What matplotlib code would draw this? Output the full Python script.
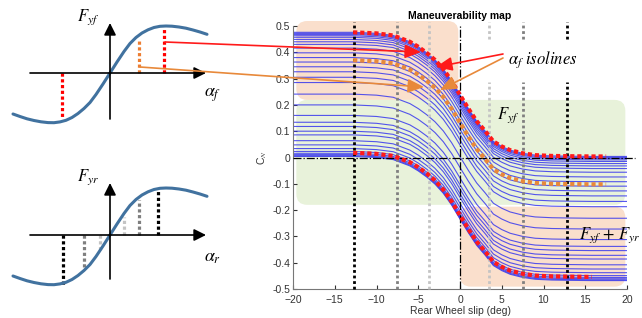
import numpy as np
import matplotlib
matplotlib.use('Agg')
from matplotlib import pyplot as plt
from matplotlib.patches import FancyBboxPatch

plt.rcParams['font.family'] = ['Liberation Sans', 'DejaVu Sans']
plt.rcParams['mathtext.fontset'] = 'stix'

# rear wheel slip (deg) and the drop of C_N along one alpha_f isoline
slip = [-20, -16, -12.8, -10, -8, -7, -6, -5, -4, -3, -2, -1, 0, 1, 2, 3, 4, 5, 6, 7.5, 9, 11, 13, 15.8, 17.5, 20]
drop = [0, 0, 0, -0.004, -0.012, -0.024, -0.036, -0.055, -0.078, -0.105, -0.14, -0.185, -0.238,
        -0.29, -0.338, -0.375, -0.415, -0.434, -0.448, -0.46, -0.467, -0.47, -0.471, -0.472, -0.472, -0.472]

# C_N of each isoline at -20 deg rear slip
levels = [0.476, 0.472, 0.468, 0.463, 0.457, 0.449, 0.44, 0.43, 0.416, 0.398, 0.38, 0.363, 0.345,
          0.326, 0.305, 0.285, 0.241, 0.2, 0.16, 0.134, 0.118, 0.1, 0.086, 0.064, 0.048, 0.034,
          0.023, 0.016, 0.011, 0.007, 0.004]

# highlighted isolines: level, start, end
red_levels = [0.476, 0.018]
red_start = [-12.8, -12.8]
red_end = [17.5, 15.8]
orange_level = 0.37
orange_start = -12.8
orange_end = 17.5

# dotted rear slip marks
slip_marks = [-12.7, -7.6, -3.7, 3.5, 7.5, 12.8]
mark_colors = ['black', '#7f7f7f', '#c4c4c4', '#c4c4c4', '#7f7f7f', 'black']

xticks = [-20, -15, -10, -5, 0, 5, 10, 15, 20]
yticks = [0.5, 0.4, 0.3, 0.2, 0.1, 0, -0.1, -0.2, -0.3, -0.4, -0.5]
ytick_labels = ['0.5', '0.4', '0.3', '0.2', '0.1', '0', '-0.1', '-0.2', '-0.3', '-0.4', '-0.5']

# tyre curve sketches (pixels from the origin)
sk_alpha = [-97, -90, -83, -76, -69, -62, -56, -50, -44, -38, -32, -26, -20, -14, -7, 0,
            7, 14, 20, 26, 32, 38, 44, 50, 56, 62, 69, 76, 83, 90, 97]
sk_force = [-41, -43.5, -45.8, -47.5, -48.8, -49.6, -49.7, -48.9, -47.3, -44.5, -40.5, -35.5,
            -29.5, -21.5, -11, 0, 11, 21.5, 29.5, 35.5, 40, 43.2, 45.5, 46.7, 47, 46.8, 46,
            44.8, 43, 41, 38.7]
front_marks = [-48, 29, 54]
front_tops = [-46, 34, 46]
front_colors = ['#ff0000', '#ed7d31', '#ff0000']
rear_marks = [-47, -26, -10, 14, 29, 48]
rear_tops = [-50, -33, -15, 18, 35, 45]
rear_colors = ['black', '#7f7f7f', '#c4c4c4', '#c4c4c4', '#7f7f7f', 'black']

peach = '#fadfcc'
green = '#e8f2da'
blue = '#3838ee'
red = '#ff1a1a'
orange = '#e8893a'

fig = plt.figure(figsize=(6.42, 3.18), dpi=100)

# ---- main map ----
ax = fig.add_axes([293 / 642, 1 - 289 / 318, 334 / 642, 263 / 318])
asp = (1 / 263) / (40 / 334)
for (x0, y0, w, h, c) in [(-19.6, 0.219, 19.4, 0.3, peach),
                          (-19.6, -0.18, 39.4, 0.399, green),
                          (0.0, -0.491, 19.8, 0.304, peach)]:
    ax.add_patch(FancyBboxPatch((x0, y0), w, h, boxstyle='round,pad=0,rounding_size=1.3',
                                mutation_aspect=asp, fc=c, ec='none', clip_on=False, zorder=0))

sx = np.array(slip)
dr = np.array(drop)
for lvl in levels:
    ax.plot(sx, lvl + dr, color=blue, lw=0.8, alpha=0.85, zorder=2)

ax.axvline(0, color='black', ls='-.', lw=0.9, zorder=3)
ax.plot([-20, 21], [0, 0], color='black', ls='-.', lw=0.9, clip_on=False, zorder=3)

for xm, c in zip(slip_marks, mark_colors):
    if xm < 0:
        ax.plot([xm, xm], [-0.5, 0.515], color=c, ls=(0, (1, 1)), lw=2, clip_on=False, zorder=3)
    else:
        ax.plot([xm, xm], [-0.5, 0.287], color=c, ls=(0, (1, 1)), lw=2, clip_on=False, zorder=3)
        ax.plot([xm, xm], [0.451, 0.515], color=c, ls=(0, (1, 1)), lw=2, clip_on=False, zorder=3)

for lvl, lo, hi in zip(red_levels, red_start, red_end):
    m = (sx >= lo) & (sx <= hi)
    ax.plot(sx[m], lvl + dr[m], color=red, ls=(0, (1, 0.7)), lw=3, zorder=5)
m = (sx >= orange_start) & (sx <= orange_end)
ax.plot(sx[m], orange_level + dr[m], color=orange, ls=(0, (1, 0.7)), lw=3, zorder=5)

ax.set_xlim(-20, 20)
ax.set_ylim(-0.5, 0.5)
ax.set_xticks(xticks)
ax.set_yticks(yticks)
ax.set_yticklabels(ytick_labels)
ax.tick_params(direction='in', length=3, labelsize=7.5, colors='#333333', pad=2)
ax.tick_params(axis='x', pad=4)
for s in ['top', 'right']:
    ax.spines[s].set_visible(False)
for s in ['left', 'bottom']:
    ax.spines[s].set_color('#777777')
ax.set_title('Maneuverability map', fontsize=7.5, fontweight='bold', pad=5)
ax.set_xlabel('Rear Wheel slip (deg)', fontsize=7.5, color='#333333', labelpad=1)
ax.set_ylabel('C$_N$', fontsize=7.5, color='#333333', labelpad=2)

ax.text(9.9, 0.371, r'$\alpha_f\ isolines$', fontsize=12, ha='center', va='center', zorder=6)
ax.text(5.75, 0.162, r'$F_{yf}$', fontsize=12, ha='center', va='center', zorder=6)
ax.text(18.0, -0.294, r'$F_{yf}\,+\,F_{yr}$', fontsize=12, ha='center', va='center', zorder=6)

# ---- tyre sketches ----
def sketch(rect, ylim, marks, tops, colors, ylab, xlab, ytip):
    a = fig.add_axes(rect)
    a.set_xlim(-110, 120)
    a.set_ylim(*ylim)
    a.axis('off')
    arrow = dict(arrowstyle='-|>,head_length=0.6,head_width=0.3', color='black', lw=1.2,
                 mutation_scale=12, shrinkA=0, shrinkB=0)
    a.annotate('', xy=(96, 0), xytext=(-80, 0), arrowprops=arrow)
    a.annotate('', xy=(0, ytip), xytext=(0, ylim[0] + 21), arrowprops=arrow)
    for xm, t, c in zip(marks, tops, colors):
        a.plot([xm, xm], [0, t], color=c, ls=(0, (1, 0.8)), lw=2.3)
    a.plot(sk_alpha, sk_force, color='#41729f', lw=2.2, solid_capstyle='round',
           solid_joinstyle='round')
    a.text(-22, ytip + 6, ylab, fontsize=12, ha='center', va='center')
    a.text(103, -22, xlab, fontsize=13, ha='center', va='center')
    return a

sketch([0, 1 - 140 / 318, 230 / 642, 140 / 318], (-67, 73), front_marks, front_tops,
       front_colors, r'$F_{yf}$', r'$\alpha_f$', 50)
sketch([0, 1 - 300 / 318, 230 / 642, 150 / 318], (-65, 85), rear_marks, rear_tops,
       rear_colors, r'$F_{yr}$', r'$\alpha_r$', 52)

# ---- connector arrows (figure pixels) ----
ov = fig.add_axes([0, 0, 1, 1], zorder=10)
ov.set_xlim(0, 642)
ov.set_ylim(318, 0)
ov.axis('off')
for (x0, y0, x1, y1, c) in [(165, 42, 421, 52, red), (503, 54, 436, 67, red),
                            (140, 67, 424, 87, orange), (503, 58, 440, 90, orange)]:
    ov.annotate('', xy=(x1, y1), xytext=(x0, y0),
                arrowprops=dict(arrowstyle='-|>,head_length=0.7,head_width=0.3', color=c,
                                lw=1.2, mutation_scale=14, shrinkA=0, shrinkB=0))

fig.savefig('out.png', dpi=100)
